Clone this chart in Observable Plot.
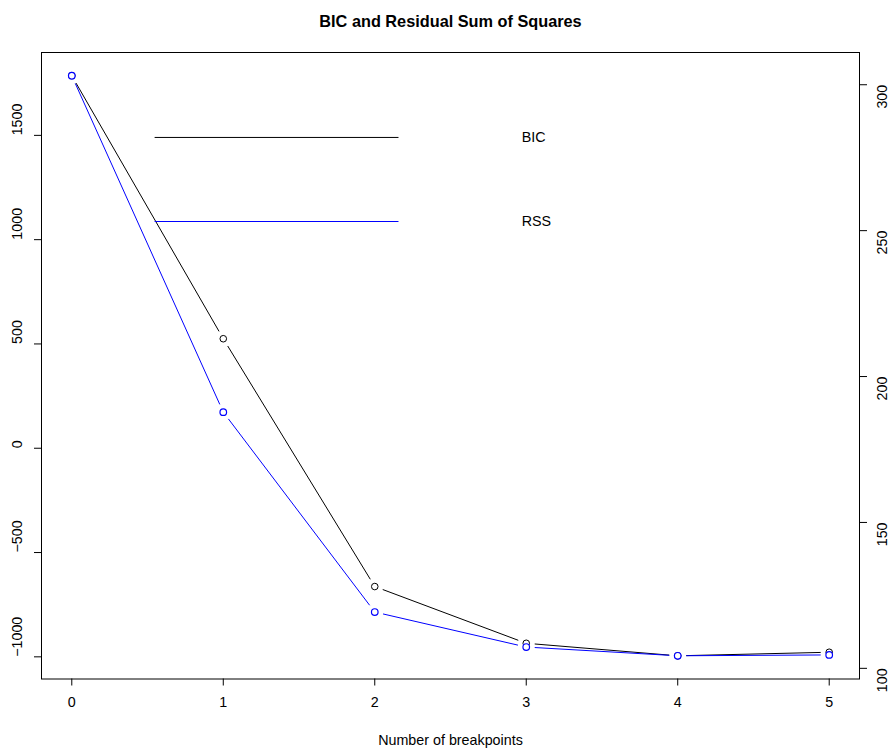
<!DOCTYPE html>
<html>
<head>
<meta charset="utf-8">
<script src="https://cdn.jsdelivr.net/npm/d3@7"></script>
<script src="https://cdn.jsdelivr.net/npm/@observablehq/plot@0.6"></script>
<style>
  body { margin: 0; background: white; }
  svg { display: block; }
</style>
</head>
<body>
<div id="chart"></div>
<script>
// ---- data ----
const breakpoints = [0, 1, 2, 3, 4, 5];
const bic = [1786, 525, -663, -935, -995, -978];
const rss = [303.1, 187.8, 119.3, 107.3, 104.3, 104.6];
const xTicks = [0, 1, 2, 3, 4, 5];
const bicTicks = [-1000, -500, 0, 500, 1000, 1500];
const rssTicks = [100, 150, 200, 250, 300];
const legendLabels = ["BIC", "RSS"];
const legendColors = ["black", "blue"];
const titleText = "BIC and Residual Sum of Squares";
const xLabel = "Number of breakpoints";

// RSS is drawn on the BIC scale (ranges matched), with its own right axis
const bicMin = d3.min(bic), bicMax = d3.max(bic);
const rssMin = d3.min(rss), rssMax = d3.max(rss);
const toBic = r => (r - rssMin) / (rssMax - rssMin) * (bicMax - bicMin) + bicMin;

const segs = (ys) => d3.range(breakpoints.length - 1).map(i => ({
  x1: breakpoints[i], y1: ys[i], x2: breakpoints[i + 1], y2: ys[i + 1]
}));
const bicSegs = segs(bic);
const rssSegs = segs(rss.map(toBic));
const pts = (ys) => breakpoints.map((b, i) => ({x: b, y: ys[i]}));

const bicPad = (bicMax - bicMin) * 0.04;
const fmt = d => d < 0 ? "\u2212" + Math.abs(d) : String(d);

const legend = legendLabels.map((l, i) => ({label: l, color: legendColors[i], y: [1490, 1087][i]}));

const FS = 14.3;
const chart = Plot.plot({
  width: 895,
  height: 756,
  marginLeft: 41,
  marginRight: 36,
  marginTop: 52,
  marginBottom: 77.5,
  style: {fontFamily: "'Liberation Sans', Arial, sans-serif", fontSize: FS + "px", color: "black", background: "white"},
  x: {domain: [-0.2, 5.2]},
  y: {domain: [bicMin - bicPad, bicMax + bicPad]},
  marks: [
    Plot.frame({stroke: "black"}),
    Plot.axisX({ticks: xTicks, tickSize: 7, tickFormat: () => "", label: null, stroke: "black"}),
    Plot.axisY({ticks: bicTicks, anchor: "left", tickSize: 7, tickFormat: () => "", label: null, stroke: "black"}),
    Plot.axisY({ticks: rssTicks.map(toBic), anchor: "right", tickSize: 7, tickFormat: () => "", label: null, stroke: "black"}),
    Plot.text(xTicks, {x: d => d, frameAnchor: "bottom", dy: 28, text: d => String(d), fill: "black", fontSize: FS}),
    Plot.text(bicTicks, {y: d => d, frameAnchor: "left", dx: -24, rotate: -90, text: fmt, fill: "black", fontSize: FS}),
    Plot.text(rssTicks, {y: d => toBic(d), frameAnchor: "right", dx: 22.5, rotate: -90, text: d => String(d), fill: "black", fontSize: FS}),
    // BIC series
    Plot.arrow(bicSegs, {x1: "x1", y1: "y1", x2: "x2", y2: "y2", stroke: "black", strokeWidth: 1, headLength: 0, insetStart: 8.5, insetEnd: 8.5, strokeLinecap: "butt"}),
    Plot.dot(pts(bic), {x: "x", y: "y", r: 3.3, stroke: "black", fill: "none", strokeWidth: 1}),
    // RSS series
    Plot.arrow(rssSegs, {x1: "x1", y1: "y1", x2: "x2", y2: "y2", stroke: "blue", strokeWidth: 1, headLength: 0, insetStart: 8.5, insetEnd: 8.5, strokeLinecap: "butt"}),
    Plot.dot(pts(rss.map(toBic)), {x: "x", y: "y", r: 3.3, stroke: "blue", fill: "white", strokeWidth: 1.2}),
    // legend
    Plot.ruleY(legend, {y: "y", x1: 0.55, x2: 2.16, stroke: "color", strokeWidth: 1}),
    Plot.text(legend, {y: "y", x: 2.97, text: "label", textAnchor: "start", fill: "black", fontSize: FS}),
    // title and x label
    Plot.text([titleText], {frameAnchor: "top", dy: -37, text: d => d, fontWeight: "bold", fontSize: 16.3, fill: "black"}),
    Plot.text([xLabel], {frameAnchor: "bottom", dy: 66, text: d => d, fontSize: FS, fill: "black"})
  ]
});
document.getElementById("chart").appendChild(chart);
</script>
</body>
</html>
